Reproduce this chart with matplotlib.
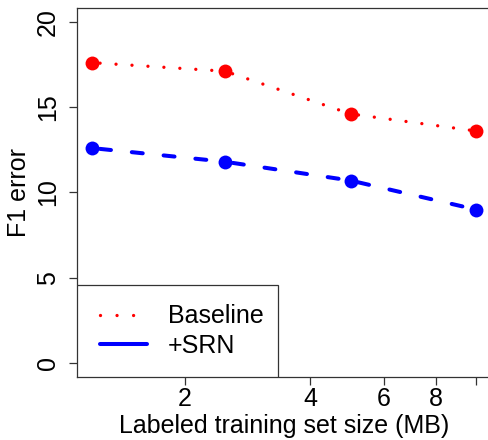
import matplotlib
matplotlib.use("Agg")
import matplotlib.pyplot as plt
from matplotlib.lines import Line2D
from matplotlib.patches import Rectangle

plt.rcParams['font.family'] = ['Liberation Sans', 'DejaVu Sans']
plt.rcParams['font.size'] = 18
plt.rcParams['lines.scale_dashes'] = False

# training set sizes (MB) and F1 error for each system
sizes = [1.2, 2.5, 5, 10]
baseline_err = [17.6, 17.1, 14.6, 13.6]
srn_err = [12.6, 11.8, 10.7, 9.0]
series_names = ["Baseline", "+SRN"]

x_ticks = [2, 4, 6, 8, 10]
x_ticklabels = ['2', '4', '6', '8', '']
y_ticks = [0, 5, 10, 15, 20]

fig = plt.figure(figsize=(4.89, 4.40), dpi=100)
ax = fig.add_axes([76.8 / 489, 63 / 440, (491.5 - 76.8) / 489, (432 - 63) / 440])

# R-style dotted / dashed patterns, restarted on every segment
dot_style = (5.8, (0.01, 11.5))
dash_style = (17.3, (7.9, 15.1))

for i in range(len(sizes) - 1):
    ax.plot(sizes[i:i + 2], baseline_err[i:i + 2], color='red', lw=2.4,
            linestyle=dot_style, dash_capstyle='round')
    ax.plot(sizes[i:i + 2], srn_err[i:i + 2], color='blue', lw=2.9,
            linestyle=dash_style, dash_capstyle='round')

ax.plot(sizes, baseline_err, 'o', color='red', ms=10, mew=0, zorder=3)
ax.plot(sizes, srn_err, 'o', color='blue', ms=10, mew=0, zorder=3)

ax.set_xscale('log')
ax.set_xlim(1.1024, 10.885)
ax.set_ylim(-0.8, 20.8)
ax.set_xticks(x_ticks)
ax.set_xticklabels(x_ticklabels)
ax.xaxis.set_minor_locator(matplotlib.ticker.NullLocator())
ax.set_yticks(y_ticks)
ax.set_yticklabels([str(v) for v in y_ticks])
for lab in ax.get_yticklabels():
    lab.set_rotation(90)
    lab.set_va('center')

ax.tick_params(axis='both', direction='out', length=6, width=0.9, color='#333333')
ax.tick_params(axis='x', pad=1)
ax.tick_params(axis='y', pad=6)
for sp in ax.spines.values():
    sp.set_linewidth(0.9)
    sp.set_color('#333333')

ax.set_xlabel("Labeled training set size (MB)", labelpad=2)
ax.set_ylabel("F1 error", labelpad=4)

# legend box in the lower-left corner
ax.add_patch(Rectangle((0, 0), 201 / 414.7, 92 / 369, transform=ax.transAxes,
                       facecolor='white', edgecolor='#333333', lw=0.9, zorder=4))
handles = [
    Line2D([], [], color='red', lw=2.4, linestyle=(0, (0.01, 11.9)), dash_capstyle='round'),
    Line2D([], [], color='blue', lw=2.9, solid_capstyle='round'),
]
leg = ax.legend(handles, series_names, loc='center left', frameon=False,
                bbox_to_anchor=(100 / 489, 1 - 331 / 440), bbox_transform=fig.transFigure,
                borderpad=0, borderaxespad=0, handlelength=1.88, handletextpad=0.84,
                labelspacing=0.22)
leg.set_zorder(5)

fig.savefig("out.png", dpi=100)
